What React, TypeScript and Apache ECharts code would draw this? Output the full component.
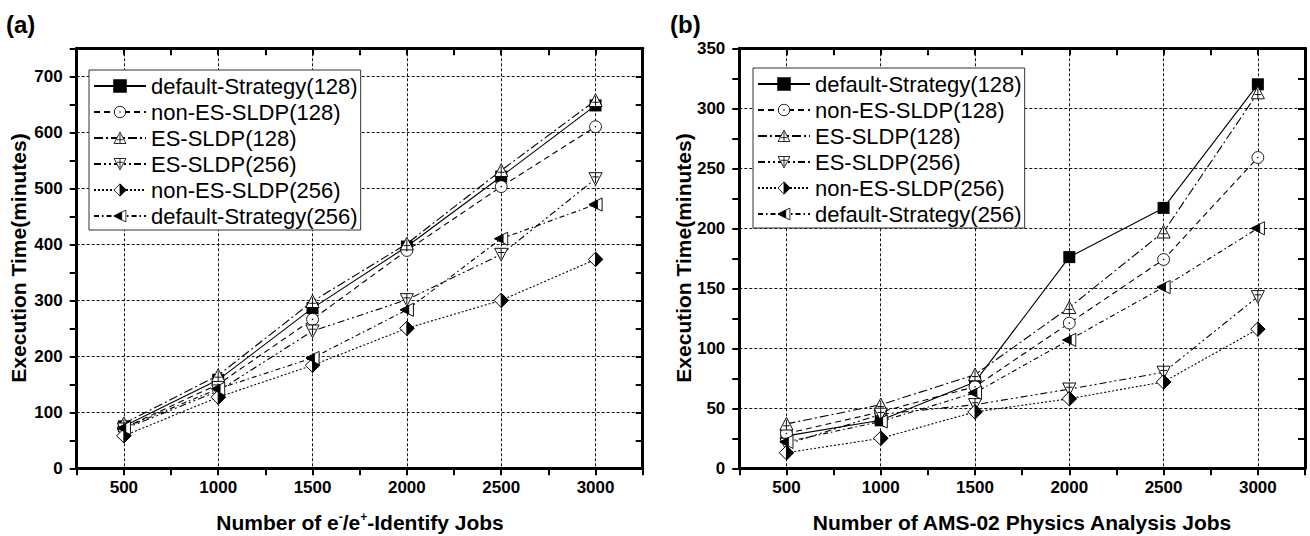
import React, { useEffect, useRef } from 'react';
import * as echarts from 'echarts';

// ---------- data ----------
const jobs = [500, 1000, 1500, 2000, 2500, 3000];
const xTickLabels = [500, 1000, 1500, 2000, 2500, 3000];
const yTickLabelsA = [0, 100, 200, 300, 400, 500, 600, 700];
const yTickLabelsB = [0, 50, 100, 150, 200, 250, 300, 350];

const seriesNames = [
  'default-Strategy(128)',
  'non-ES-SLDP(128)',
  'ES-SLDP(128)',
  'ES-SLDP(256)',
  'non-ES-SLDP(256)',
  'default-Strategy(256)',
];

// (a) e-/e+ identify jobs
const aDefault128 = [75, 158, 286, 396, 521, 648];
const aNonES128 = [72, 150, 266, 389, 503, 610];
const aES128 = [80, 166, 298, 401, 532, 657];
const aES256 = [70, 138, 245, 301, 382, 517];
const aNonES256 = [58, 127, 184, 250, 300, 373];
const aDefault256 = [72, 142, 197, 283, 410, 471];

// (b) AMS-02 physics analysis jobs
const bDefault128 = [27, 40, 72, 176, 217, 320];
const bNonES128 = [29, 47, 68, 121, 174, 259];
const bES128 = [37, 53, 78, 134, 197, 313];
const bES256 = [20, 45, 53, 66, 80, 143];
const bNonES256 = [13, 25, 47, 58, 72, 116];
const bDefault256 = [22, 39, 63, 107, 151, 200];

// ---------- styles ----------
const FONT = "'Liberation Sans', Arial, Helvetica, sans-serif";

const svgSym = (body: string) =>
  'image://data:image/svg+xml;charset=utf-8,' +
  encodeURIComponent(
    `<svg xmlns="http://www.w3.org/2000/svg" width="32" height="32" viewBox="0 0 16 16">${body}</svg>`
  );

const symCircle = svgSym(
  '<circle cx="8" cy="8" r="6.8" fill="#fff" stroke="#000" stroke-width="1"/><circle cx="8" cy="8" r="0.9" fill="#000"/>'
);
const symTriUp = svgSym(
  '<polygon points="8,1 15,14.5 1,14.5" fill="#fff" stroke="#000" stroke-width="1"/><path d="M8 3.5V14.5M4.5 10H11.5" stroke="#000" stroke-width="1" fill="none"/>'
);
const symTriDown = svgSym(
  '<polygon points="1,1.5 15,1.5 8,15" fill="#fff" stroke="#000" stroke-width="1"/><path d="M8 1.5V12.5M4.5 6H11.5" stroke="#000" stroke-width="1" fill="none"/>'
);
const symDiamond = svgSym(
  '<polygon points="8,0.8 15.2,8 8,15.2 0.8,8" fill="#fff" stroke="#000" stroke-width="1"/><polygon points="8,0.8 15.2,8 8,15.2" fill="#000" stroke="#000" stroke-width="1"/>'
);
const symTriLeft = svgSym(
  '<polygon points="1,8 15,1 15,15" fill="#fff" stroke="#000" stroke-width="1"/><polygon points="1,8 10,3.5 10,12.5" fill="#000" stroke="#000" stroke-width="1"/>'
);

const seriesStyles = [
  { symbol: 'rect', size: 12, dash: 'solid' as any },
  { symbol: symCircle, size: 14, dash: [6, 4] },
  { symbol: symTriUp, size: 15, dash: [9, 3, 2, 3] },
  { symbol: symTriDown, size: 15, dash: [7, 3, 2, 3, 2, 3] },
  { symbol: symDiamond, size: 16, dash: [2, 2] },
  { symbol: symTriLeft, size: 15, dash: [5, 3, 1.5, 3] },
];

const dataA = [aDefault128, aNonES128, aES128, aES256, aNonES256, aDefault256];
const dataB = [bDefault128, bNonES128, bES128, bES256, bNonES256, bDefault256];

const X_MIN = 250;
const X_MAX = 3250;
const X_STEP = 250;

function makeXAxes(gridIndex: number) {
  const common = {
    type: 'value',
    gridIndex,
    min: X_MIN,
    max: X_MAX,
    interval: X_STEP,
  };
  return [
    {
      ...common,
      position: 'bottom',
      axisLine: { show: true, onZero: false, lineStyle: { color: '#000', width: 3 } },
      axisTick: { show: true, inside: false, length: 7, lineStyle: { color: '#000', width: 2 } },
      axisLabel: {
        formatter: (v: number) => (xTickLabels.includes(v) ? String(v) : ''),
        fontFamily: FONT,
        fontWeight: 'bold',
        fontSize: 17,
        color: '#000',
        margin: 11,
      },
      splitLine: {
        show: true,
        lineStyle: { color: ['rgba(0,0,0,0)', '#111'], type: [3, 2], width: 1 },
      },
    },
    {
      ...common,
      position: 'top',
      axisLine: { show: true, onZero: false, lineStyle: { color: '#000', width: 3 } },
      axisTick: { show: true, inside: true, length: 7, lineStyle: { color: '#000', width: 2 } },
      axisLabel: { show: false },
      splitLine: { show: false },
    },
  ];
}

function makeYAxes(gridIndex: number, max: number, step: number, labels: number[]) {
  const common = { type: 'value', gridIndex, min: 0, max, interval: step };
  return [
    {
      ...common,
      position: 'left',
      axisLine: { show: true, onZero: false, lineStyle: { color: '#000', width: 3 } },
      axisTick: { show: true, inside: false, length: 7, lineStyle: { color: '#000', width: 2 } },
      axisLabel: {
        formatter: (v: number) => (labels.includes(v) ? String(v) : ''),
        fontFamily: FONT,
        fontWeight: 'bold',
        fontSize: 17,
        color: '#000',
        margin: 14,
      },
      splitLine: {
        show: true,
        lineStyle: { color: ['#111', 'rgba(0,0,0,0)'], type: [3, 2], width: 1 },
      },
    },
    {
      ...common,
      position: 'right',
      axisLine: { show: true, onZero: false, lineStyle: { color: '#000', width: 3 } },
      axisTick: { show: true, inside: true, length: 7, lineStyle: { color: '#000', width: 2 } },
      axisLabel: { show: false },
      splitLine: { show: false },
    },
  ];
}

function makeSeries(data: number[][], xAxisIndex: number, yAxisIndex: number) {
  return data.map((vals, i) => ({
    type: 'line',
    name: seriesNames[i],
    xAxisIndex,
    yAxisIndex,
    data: jobs.map((x, j) => [x, vals[j]]),
    symbol: seriesStyles[i].symbol,
    symbolSize: seriesStyles[i].size,
    showAllSymbol: true,
    itemStyle: { color: '#000', borderColor: '#000', borderWidth: 0 },
    lineStyle: { color: '#000', width: 1.1, type: seriesStyles[i].dash },
    emphasis: { disabled: true },
    z: 3 + i,
  }));
}

function makeLegend(left: number, top: number) {
  return {
    data: seriesNames,
    orient: 'vertical',
    left,
    top,
    itemWidth: 52,
    itemHeight: 17,
    itemGap: 4,
    padding: [5, 3, 3, 4],
    backgroundColor: '#fff',
    borderColor: '#333',
    borderWidth: 1,
    selectedMode: false,
    textStyle: { fontFamily: FONT, fontSize: 22, color: '#000', lineHeight: 22 },
  };
}

const titleStyle = {
  fontFamily: FONT,
  fontWeight: 'bold',
  fontSize: 21,
  fill: '#000',
};

export default function App() {
  const ref = useRef<HTMLDivElement>(null);

  useEffect(() => {
    if (!ref.current) return;
    const chart = echarts.init(ref.current, null, { renderer: 'svg', width: 1310, height: 536 });
    const option: any = {
      animation: false,
      backgroundColor: '#fff',
      grid: [
        { left: 76.7, top: 48.3, width: 566, height: 420 },
        { left: 739.3, top: 48.3, width: 565.7, height: 420 },
      ],
      xAxis: [...makeXAxes(0), ...makeXAxes(1)],
      yAxis: [
        ...makeYAxes(0, 750, 50, yTickLabelsA),
        ...makeYAxes(1, 350, 25, yTickLabelsB),
      ],
      legend: [makeLegend(89, 70), makeLegend(753, 68)],
      series: [...makeSeries(dataA, 0, 0), ...makeSeries(dataB, 2, 2)],
      graphic: [
        {
          type: 'text',
          left: 6,
          top: 12,
          style: { text: '(a)', fontFamily: FONT, fontWeight: 'bold', fontSize: 24, fill: '#000' },
        },
        {
          type: 'text',
          left: 670,
          top: 12,
          style: { text: '(b)', fontFamily: FONT, fontWeight: 'bold', fontSize: 24, fill: '#000' },
        },
        {
          type: 'text',
          x: 18,
          y: 258,
          rotation: Math.PI / 2,
          style: {
            ...titleStyle,
            text: 'Execution Time(minutes)',
            align: 'center',
            verticalAlign: 'middle',
          },
        },
        {
          type: 'text',
          x: 683,
          y: 258,
          rotation: Math.PI / 2,
          style: {
            ...titleStyle,
            text: 'Execution Time(minutes)',
            align: 'center',
            verticalAlign: 'middle',
          },
        },
        {
          type: 'text',
          x: 360,
          y: 522,
          style: {
            text: '{n|Number of e}{s|-}{n|/e}{s|+}{n|-Identify Jobs}',
            align: 'center',
            verticalAlign: 'middle',
            rich: {
              n: { fontFamily: FONT, fontWeight: 'bold', fontSize: 21, fill: '#000', lineHeight: 23 },
              s: {
                fontFamily: FONT,
                fontWeight: 'bold',
                fontSize: 12,
                fill: '#000',
                lineHeight: 12,
                verticalAlign: 'top',
              },
            },
          },
        },
        {
          type: 'text',
          x: 1022,
          y: 522,
          style: {
            ...titleStyle,
            text: 'Number of AMS-02 Physics Analysis Jobs',
            align: 'center',
            verticalAlign: 'middle',
          },
        },
      ],
    };
    chart.setOption(option);
    return () => chart.dispose();
  }, []);

  return (
    <div
      ref={ref}
      style={{ position: 'absolute', left: 0, top: 0, width: 1310, height: 536, background: '#fff' }}
    />
  );
}
